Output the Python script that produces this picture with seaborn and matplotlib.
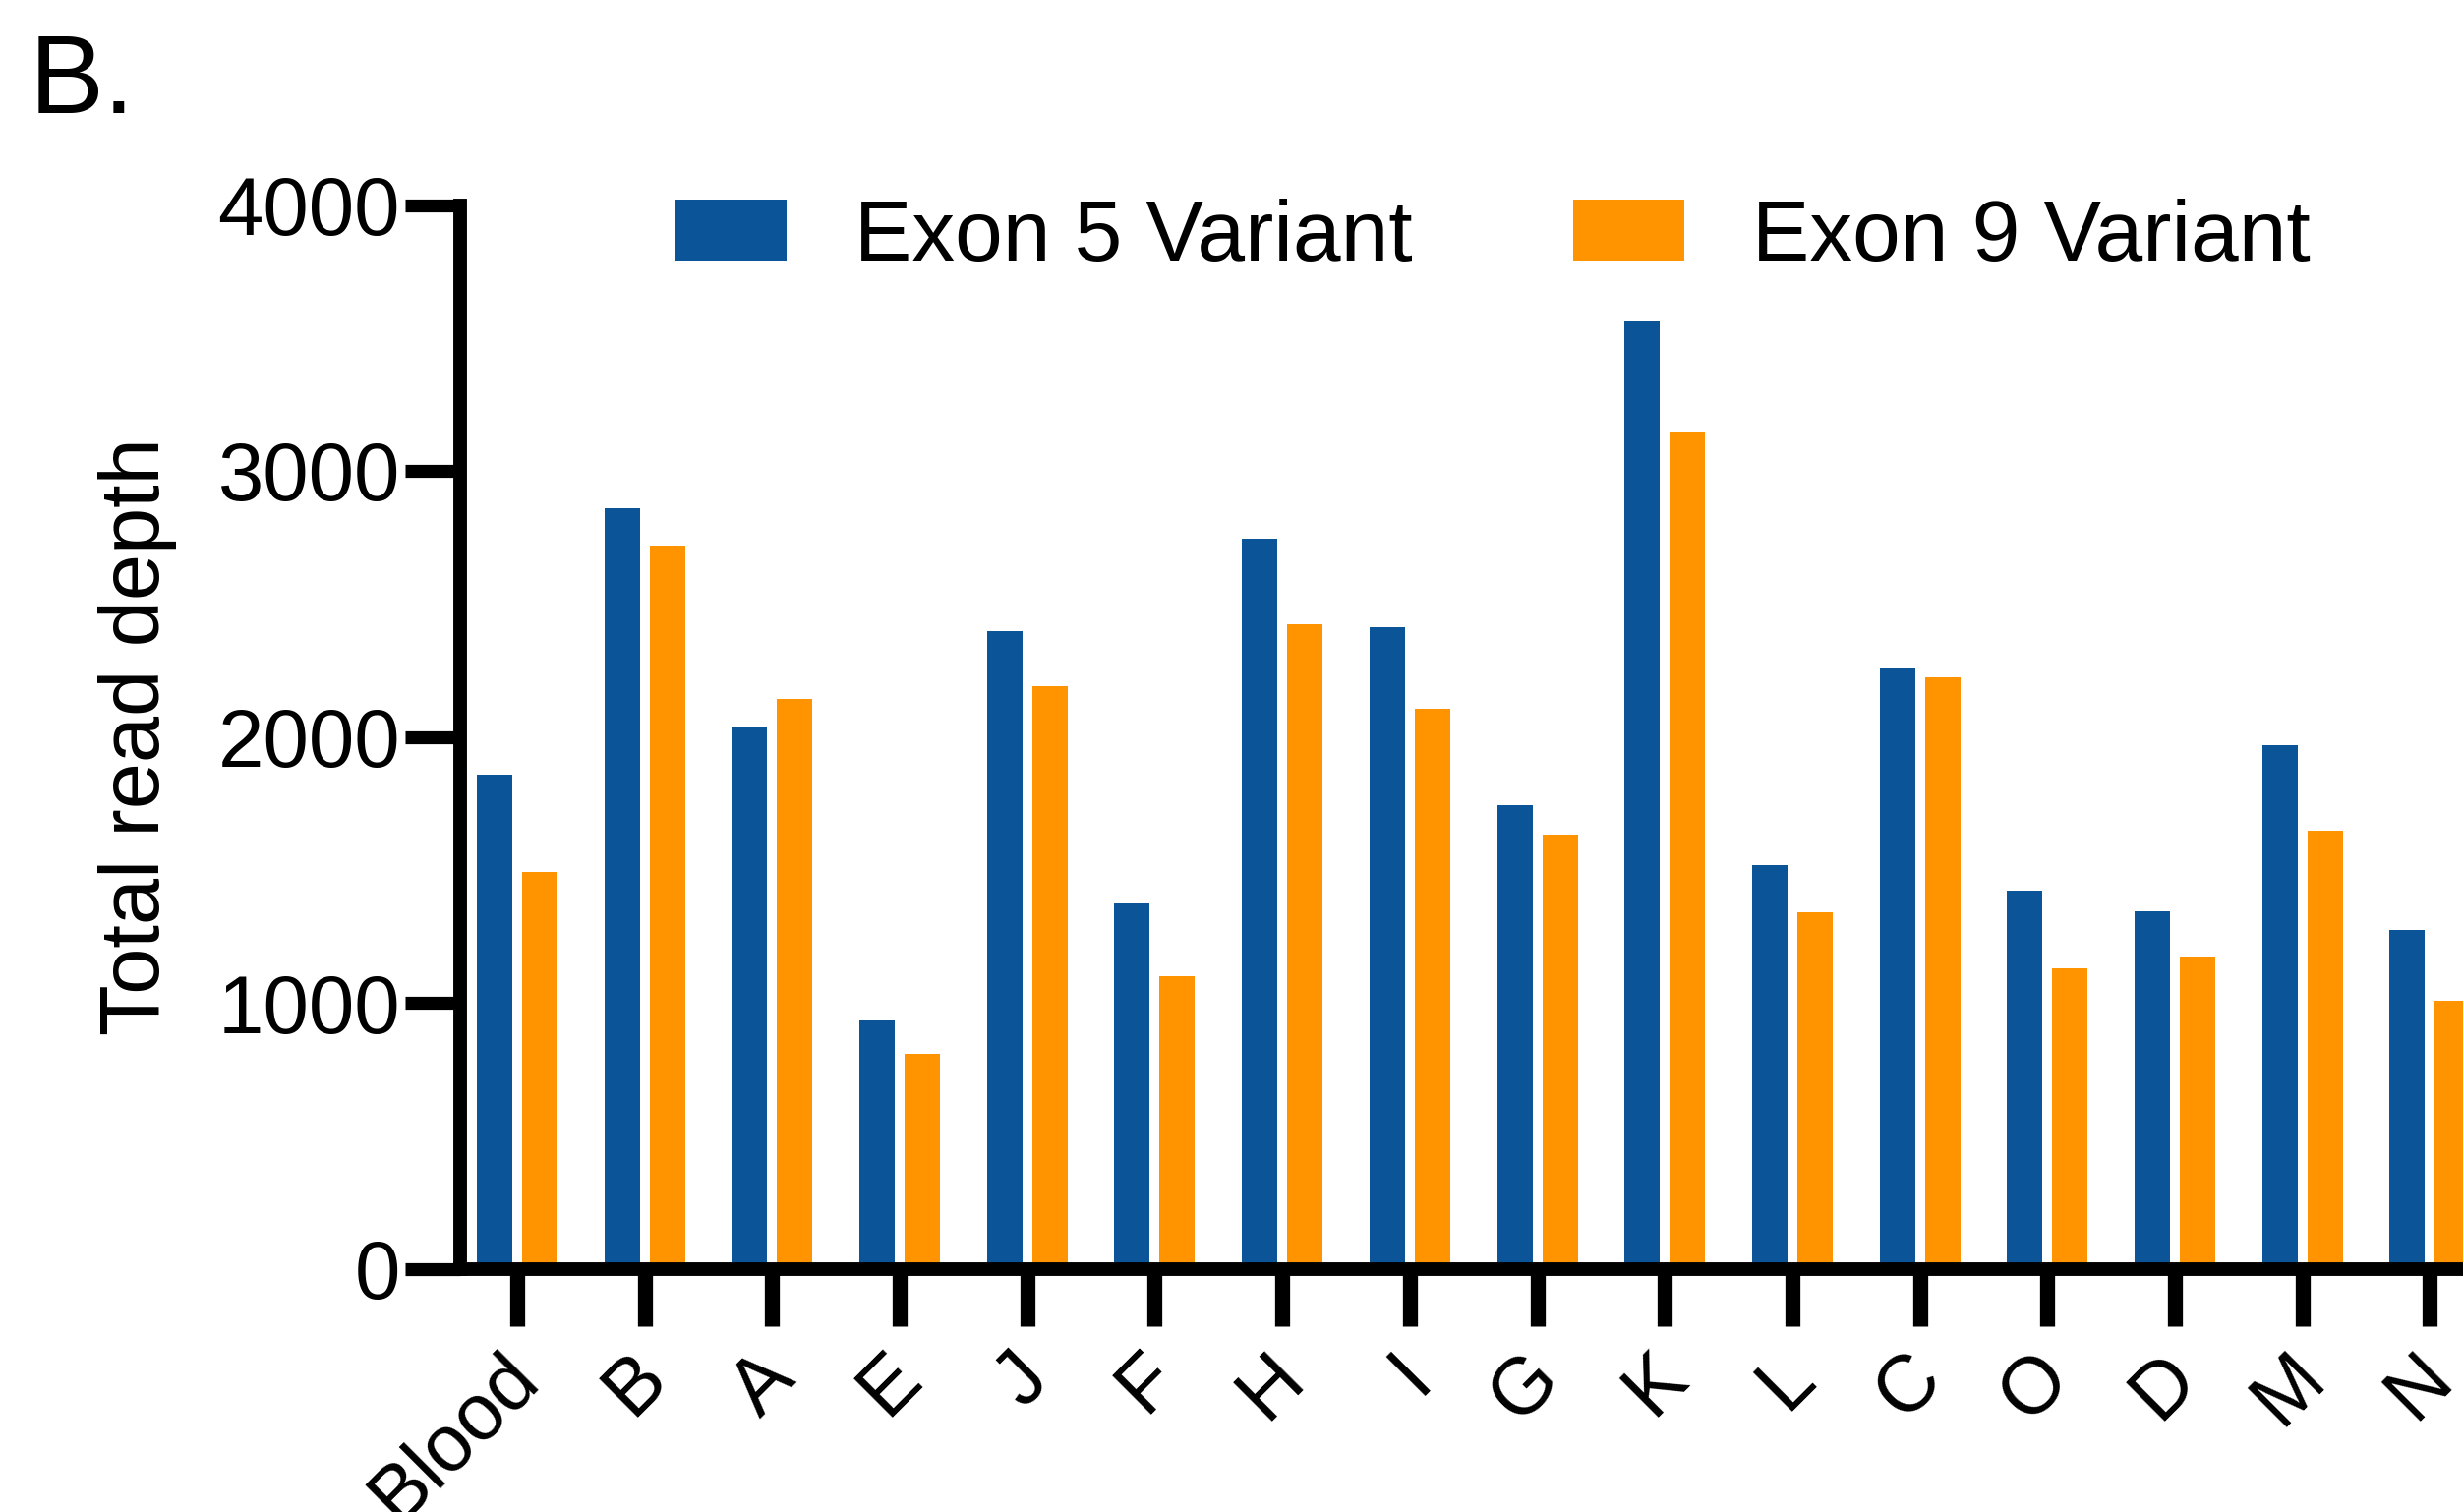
import matplotlib
matplotlib.use("Agg")
import matplotlib.pyplot as plt
import matplotlib.transforms as mtransforms
import seaborn as sns
import pandas as pd

# Read depth per sample for the two variant sites
samples = ["Blood", "B", "A", "E", "J", "F", "H", "I", "G", "K", "L", "C", "O", "D", "M", "N"]
exon5_depth = [1859, 2861, 2037, 932, 2399, 1373, 2745, 2412, 1742, 3563, 1516, 2261, 1421, 1344, 1969, 1274]
exon9_depth = [1493, 2719, 2142, 808, 2192, 1100, 2423, 2106, 1631, 3148, 1340, 2225, 1129, 1174, 1647, 1009]
series_names = ["Exon 5 Variant", "Exon 9 Variant"]
y_ticks = [0, 1000, 2000, 3000, 4000]

colors = {"Exon 5 Variant": "#0A5497", "Exon 9 Variant": "#FF9400"}

df = pd.DataFrame({
    "sample": samples * 2,
    "depth": exon5_depth + exon9_depth,
    "variant": [series_names[0]] * len(samples) + [series_names[1]] * len(samples),
})

sns.set_theme(style="ticks")
plt.rcParams["font.family"] = ["Liberation Sans", "DejaVu Sans"]
plt.rcParams["text.color"] = "black"
plt.rcParams["axes.labelcolor"] = "black"
plt.rcParams["xtick.color"] = "black"
plt.rcParams["ytick.color"] = "black"

W, H, DPI = 2505, 1538, 100
fig = plt.figure(figsize=(W / DPI, H / DPI), dpi=DPI)

# axes extends past the right edge of the figure, so the last group is clipped
left_px, zero_px, top_px = 468, 1290.5, 208.5
step_px = 129.7
x0, x1 = -0.447, 16.0
ax = fig.add_axes([left_px / W, (H - zero_px) / H,
                   (x1 - x0) * step_px / W, (zero_px - top_px) / H])

sns.barplot(data=df, x="sample", y="depth", hue="variant", palette=colors,
            order=samples, hue_order=series_names, errorbar=None,
            width=0.709, gap=0.217, saturation=1, linewidth=0, ax=ax)

ax.set_xlim(x0, x1)
ax.set_ylim(0, 4000)
ax.set_yticks(y_ticks)
ax.set_yticklabels([str(v) for v in y_ticks])

for side in ("top", "right"):
    ax.spines[side].set_visible(False)
for side in ("left", "bottom"):
    ax.spines[side].set_linewidth(10)
    ax.spines[side].set_color("black")
    ax.spines[side].set_capstyle("projecting")

ax.tick_params(axis="y", length=40, width=9.5, direction="out", pad=4,
               labelsize=60, colors="black")
ax.tick_params(axis="x", length=42, width=11, direction="out", pad=10,
               labelsize=58, colors="black")
shift = mtransforms.ScaledTranslation(-0.17, 0, fig.dpi_scale_trans)
for lab in ax.get_xticklabels():
    lab.set_rotation(45)
    lab.set_ha("right")
    lab.set_va("top")
    lab.set_rotation_mode("anchor")
    lab.set_transform(lab.get_transform() + shift)

ax.set_xlabel("")
ax.set_ylabel("Total read depth", fontsize=61, labelpad=30, color="black")

sns.move_legend(ax, "center left", bbox_to_anchor=(687 / W, (H - 242) / H),
                bbox_transform=fig.transFigure, ncol=2, frameon=False, title=None,
                fontsize=63, handlelength=1.29, handleheight=0.72,
                handletextpad=0.79, columnspacing=1.87, borderpad=0,
                borderaxespad=0, labelcolor="black")

fig.text(30 / W, (H - 33) / H, "B.", fontsize=82, ha="left", va="top", color="black")

fig.savefig("out.png", dpi=DPI)
